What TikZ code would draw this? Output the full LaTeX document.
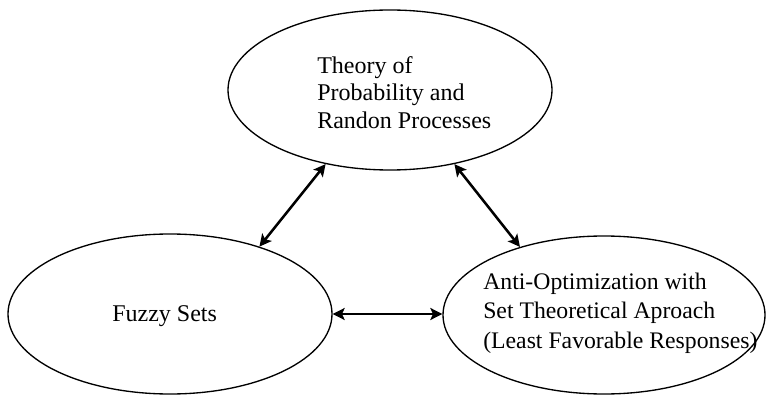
\documentclass[tikz,border=0pt]{standalone}
\usepackage{fontspec}
\setmainfont{Liberation Serif}
\usetikzlibrary{shapes.geometric,arrows.meta}
\begin{document}
\begin{tikzpicture}[x=0.75pt,y=-0.75pt,
  bubble/.style={draw=black, line width=1pt, ellipse, inner sep=0pt,
    minimum width=243pt, minimum height=120pt},
  label/.style={inner sep=0pt, anchor=base west, font=\fontsize{18}{20.6}\selectfont},
  link/.style={line width=1.9pt, {Stealth[length=9pt,width=9pt,inset=2pt]}-{Stealth[length=9pt,width=9pt,inset=2pt]}}]
\useasboundingbox (0,0) rectangle (766,395);
\node[bubble] (top) at (390,90) {};
\node[bubble] (left) at (170,314) {};
\node[bubble, minimum width=241.5pt, minimum height=118.5pt] (right) at (604,315) {};
\node[label] (toptext) at (317,73.3) {\begin{tabular}[t]{@{}l@{}}Theory of\\ Probability and\\ Randon Processes\end{tabular}};
\node[label] (lefttext) at (112,321) {Fuzzy Sets};
\node[label, font=\fontsize{17.8}{22.1}\selectfont] (righttext) at (483,289.3) {\begin{tabular}[t]{@{}l@{}}Anti-Optimization with\\ Set Theoretical Aproach\\ (Least Favorable Responses)\end{tabular}};
\draw[link] (top.229) -- (left.37);
\draw[link] (top.311) -- (right.141.5);
\draw[link] (left.east) -- (left.east -| right.west);
\end{tikzpicture}
\end{document}
